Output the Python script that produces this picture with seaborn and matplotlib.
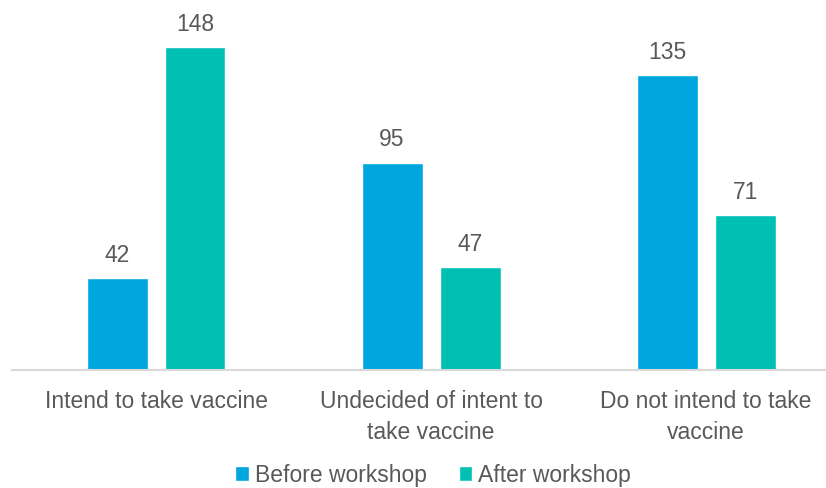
import pandas as pd
import matplotlib.pyplot as plt
import seaborn as sns

categories = ['Intend to take vaccine', 'Undecided of intent to\ntake vaccine', 'Do not intend to take\nvaccine']
before = [42, 95, 135]
after = [148, 47, 71]
series = ['Before workshop', 'After workshop']

df = pd.DataFrame({
    'category': categories * 2,
    'value': before + after,
    'group': [series[0]] * 3 + [series[1]] * 3,
})

sns.set_style('white')
plt.rcParams['font.family'] = ['Liberation Sans', 'DejaVu Sans']

fig = plt.figure(figsize=(8.26, 4.89), dpi=100)
ax = fig.add_axes([12 / 826, 1 - 371 / 489, 1 - 12 / 826, 371 / 489])

sns.barplot(data=df, x='category', y='value', hue='group', ax=ax,
            palette=['#00A6DE', '#00BFB3'], width=0.567, gap=0.218,
            saturation=1, legend=True)

text_color = '#595959'
for c in ax.containers:
    ax.bar_label(c, padding=9, fontsize=16.5, color=text_color)

ax.set_ylim(0, 170)
ax.set_xlim(-0.5236, 2.436)
ax.set_xlabel('')
ax.set_ylabel('')
ax.set_yticks([])
for s in ['top', 'right', 'left']:
    ax.spines[s].set_visible(False)
ax.spines['bottom'].set_color('#D9D9D9')
ax.spines['bottom'].set_linewidth(1.5)
ax.tick_params(axis='x', length=0, pad=14, labelsize=16.5, labelcolor=text_color)
for lbl in ax.get_xticklabels():
    lbl.set_linespacing(1.4)

ax.legend(loc='center', bbox_to_anchor=(433 / 826, 1 - 476 / 489), bbox_transform=fig.transFigure,
          ncol=2, frameon=False, fontsize=16.5, labelcolor=text_color,
          handlelength=0.6, handleheight=0.6, handletextpad=0.25, columnspacing=1.4)

fig.savefig('out.png', dpi=100)
